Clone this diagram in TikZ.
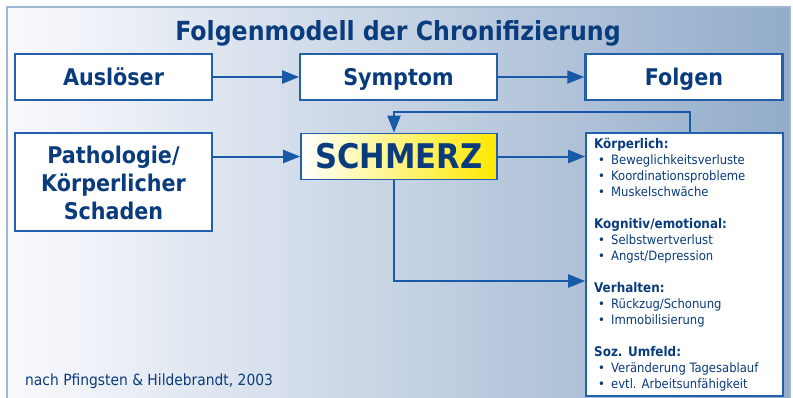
\documentclass[tikz,border=0pt]{standalone}
\usepackage{fontspec}
\setmainfont{DejaVu Sans Condensed}
\usetikzlibrary{arrows.meta}
\definecolor{txtblue}{RGB}{10,60,125}
\definecolor{arrblue}{RGB}{25,90,168}
\definecolor{boxblue}{RGB}{35,95,170}
\definecolor{panelborder}{RGB}{160,182,210}
\definecolor{bgleft}{RGB}{250,250,253}
\definecolor{bgmid}{RGB}{188,194,218}
\definecolor{bgright}{RGB}{146,172,202}
\definecolor{schyellow}{RGB}{255,232,0}
\begin{document}
\begin{tikzpicture}[x=1pt,y=-1pt,
  box/.style={draw=boxblue,line width=1.6pt,fill=white,inner sep=0pt,text=txtblue,
    font=\bfseries\fontsize{23}{28}\selectfont,text height=17pt,text depth=0pt,
    minimum width=197pt,minimum height=46pt},
  arr/.style={draw=arrblue,line width=2pt,-{Triangle[length=17pt,width=13pt]}},
  hd/.style={anchor=base west,inner sep=0pt,text=txtblue,font=\bfseries\fontsize{13.3}{15}\selectfont},
  it/.style={anchor=base west,inner sep=0pt,text=txtblue,font=\fontsize{12.9}{15}\selectfont},
]
\useasboundingbox (0,0) rectangle (793,397);
\path[left color=bgleft,middle color=bgmid,right color=bgright] (7,7) rectangle (790,400);
\draw[panelborder,line width=2pt] (7,400) -- (7,7) -- (790,7) -- (790,400);

\node[anchor=base,inner sep=0pt,text=txtblue,font=\bfseries\fontsize{26.3}{32}\selectfont] (title) at (398,40.5) {Folgenmodell der Chronifizierung};

\node[box] (ausl) at (113.5,77) {Auslöser};
\node[box] (symp) at (398.5,77) {Symptom};
\node[box,line width=2.4pt] (folg) at (684,77) {Folgen};
\node[box,align=center,minimum height=98pt,text height=74pt,text depth=0pt,
  font=\bfseries\fontsize{23}{28}\selectfont] (path) at (113.5,182) {Pathologie/\\Körperlicher\\Schaden};
\node[box,minimum width=196pt,font=\bfseries\fontsize{34}{40}\selectfont,text height=24.5pt,
  left color=white,right color=schyellow] (schmerz) at (399,156.5) {SCHMERZ};
\node[draw=boxblue,line width=1.6pt,fill=white,minimum width=197pt,minimum height=263pt,inner sep=0pt] (list) at (684.5,264.5) {};

\coordinate (fbL) at (394,112);
\coordinate (fbR) at (690,112);
\coordinate (dn) at (394,281);

\draw[arr] (ausl) -- (symp);
\draw[arr] (symp) -- (folg);
\draw[arr] (path.east |- schmerz.west) -- (schmerz.west);
\draw[arr] (schmerz.east) -- (list.west |- schmerz.east);
\draw[arr] (fbR |- list.north) -- (fbR) -- (fbL) -- (fbL |- schmerz.north);
\draw[arr] (dn |- schmerz.south) -- (dn) -- (dn -| list.west);

\node[hd] (h1) at (594,148) {Körperlich:};
\node[it] (i11) at (598,164) {\makebox[13pt][l]{•}Beweglichkeitsverluste};
\node[it] (i12) at (598,180) {\makebox[13pt][l]{•}Koordinationsprobleme};
\node[it] (i13) at (598,196) {\makebox[13pt][l]{•}Muskelschwäche};
\node[hd] (h2) at (594,228) {Kognitiv/emotional:};
\node[it] (i21) at (598,244) {\makebox[13pt][l]{•}Selbstwertverlust};
\node[it] (i22) at (598,260) {\makebox[13pt][l]{•}Angst/Depression};
\node[hd] (h3) at (594,292) {Verhalten:};
\node[it] (i31) at (598,308) {\makebox[13pt][l]{•}Rückzug/Schonung};
\node[it] (i32) at (598,324) {\makebox[13pt][l]{•}Immobilisierung};
\node[hd] (h4) at (594,356) {Soz. Umfeld:};
\node[it] (i41) at (598,372) {\makebox[13pt][l]{•}Veränderung Tagesablauf};
\node[it] (i42) at (598,388) {\makebox[13pt][l]{•}evtl. Arbeitsunfähigkeit};

\node[anchor=base west,inner sep=0pt,text=txtblue,font=\fontsize{15.4}{18}\selectfont] (src) at (25,385) {nach Pfingsten \& Hildebrandt, 2003};
\end{tikzpicture}
\end{document}
